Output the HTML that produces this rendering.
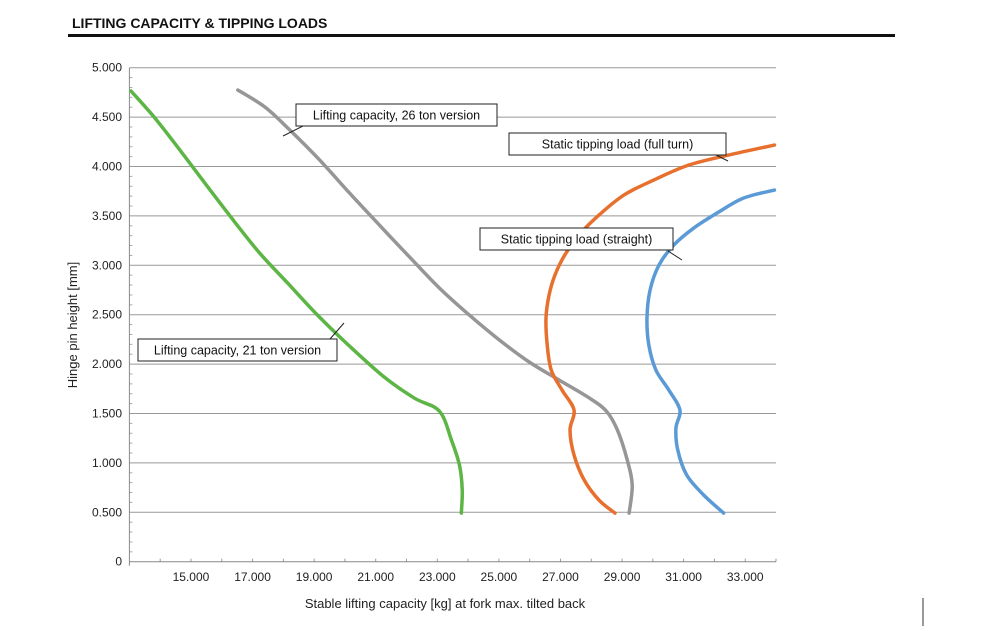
<!DOCTYPE html>
<html><head><meta charset="utf-8"><style>
body{margin:0;background:#fff;}
svg text{font-family:"Liberation Sans",Arial,sans-serif;}
</style></head><body>
<svg width="1000" height="626" viewBox="0 0 1000 626">
<text x="72" y="28" font-size="14" font-weight="bold" fill="#111">LIFTING CAPACITY &amp; TIPPING LOADS</text>
<rect x="68" y="34" width="827" height="3" fill="#111"/>
<g id="grid"></g><g id="axes"></g><g id="series"></g>
<text transform="translate(77,325) rotate(-90)" text-anchor="middle" font-size="13" fill="#222">Hinge pin height [mm]</text>
<text x="445" y="608" text-anchor="middle" font-size="13" fill="#222">Stable lifting capacity [kg] at fork max. tilted back</text>
<line x1="923" y1="598" x2="923" y2="626" stroke="#333"/>
<g id="labels"></g>
</svg>
<script>
const xTicks=[15000,17000,19000,21000,23000,25000,27000,29000,31000,33000];
const yTicks=[0,500,1000,1500,2000,2500,3000,3500,4000,4500,5000];
const green_x=[13052,13830,14640,15450,16420,17230,18140,19110,20150,21280,22260,23070,23460,23720,23810,23780];
const green_y=[4764,4490,4166,3832,3438,3124,2820,2496,2182,1868,1655,1523,1230,977,724,492];
const gray_x=[16520,17400,18210,19180,20150,21120,22100,23070,24040,25020,25990,26960,27940,28490,28850,29170,29330,29230];
const gray_y=[4774,4602,4369,4065,3731,3407,3083,2769,2496,2243,2020,1838,1656,1524,1332,1028,775,492];
const orange_x=[28770,28250,27770,27440,27310,27440,27050,26700,26570,26530,26630,26820,27140,27600,28250,29060,30030,31170,32460,33950];
const orange_y=[492,624,827,1080,1333,1535,1738,1940,2193,2466,2699,2901,3104,3306,3508,3711,3863,4015,4116,4217];
const blue_x=[32300,31650,31100,30810,30750,30880,30520,30100,29870,29810,29910,30200,30680,31330,32140,32950,33950];
const blue_y=[492,675,877,1130,1353,1535,1737,1940,2193,2466,2749,3002,3205,3377,3539,3681,3762];
const X0=13000,X1=34000,PL=129.4,PR=776,PT=67.7,PB=561.7;
const sx=v=>PL+(v-X0)/(X1-X0)*(PR-PL);
const sy=v=>PB-v/5000*(PB-PT);
const NS='http://www.w3.org/2000/svg';
function mk(t,a,p){const e=document.createElementNS(NS,t);for(const k in a)e.setAttribute(k,a[k]);p.appendChild(e);return e;}
const grid=document.getElementById('grid'),axes=document.getElementById('axes');
yTicks.forEach(v=>{
 if(v>0){const l=mk('line',{x1:PL,x2:PR,y1:sy(v),y2:sy(v),stroke:'#999','stroke-width':1},grid);
 }
 const t=mk('text',{x:122,y:sy(v)+4,'text-anchor':'end','font-size':12,fill:'#222'},axes);t.textContent=v===0?'0':(v/1000).toFixed(3);
 
});
for(let v=100;v<5000;v+=100){if(v%500)mk('line',{x1:PL,x2:PL+3,y1:sy(v),y2:sy(v),stroke:'#aaa'},axes);}
for(let v=14000;v<=34000;v+=1000){mk('line',{x1:sx(v),x2:sx(v),y1:PB,y2:PB-3,stroke:'#999'},axes);}
xTicks.forEach(v=>{const t=mk('text',{x:sx(v),y:581,'text-anchor':'middle','font-size':12,fill:'#222'},axes);
 t.textContent=(v/1000).toFixed(3);});
let a=mk('line',{x1:PL,x2:PR,y1:PB,y2:PB,stroke:'#888'},axes);
a=mk('line',{x1:PL,x2:PL,y1:PT,y2:PB+4,stroke:'#888'},axes);
function path(xs,ys){const p=xs.map((x,i)=>[sx(x),sy(ys[i])]);let d='M'+p[0][0]+','+p[0][1];
 for(let i=0;i<p.length-1;i++){const p0=p[i-1]||p[i],p1=p[i],p2=p[i+1],p3=p[i+2]||p2;
 d+=` C${p1[0]+(p2[0]-p0[0])/6},${p1[1]+(p2[1]-p0[1])/6} ${p2[0]-(p3[0]-p1[0])/6},${p2[1]-(p3[1]-p1[1])/6} ${p2[0]},${p2[1]}`;}return d;}
const ser=document.getElementById('series');
[[green_x,green_y,'#5cb545','line-21-ton'],[gray_x,gray_y,'#969696','line-26-ton'],[orange_x,orange_y,'#e8702e','line-tipping-full-turn'],[blue_x,blue_y,'#5a9ad6','line-tipping-straight']].forEach(s=>{
 const e=mk('path',{d:path(s[0],s[1]),fill:'none',stroke:s[2],'stroke-width':3.5,'stroke-linecap':'round'},ser);
 });
const lab=document.getElementById('labels');
[[296,104,201,'Lifting capacity, 26 ton version',303,126,283,136],[509,133,217,'Static tipping load (full turn)',716,155,728,161],[480,228,193,'Static tipping load (straight)',668,251,682,260],[138,339,199,'Lifting capacity, 21 ton version',330,339,344,323]].forEach(l=>{
 const g=mk('g',{},lab);
 mk('line',{x1:l[4],y1:l[5],x2:l[6],y2:l[7],stroke:'#222'},g);
 mk('rect',{x:l[0],y:l[1],width:l[2],height:22,fill:'#fff',stroke:'#222'},g);
 const t=mk('text',{x:l[0]+l[2]/2,y:l[1]+15.5,'text-anchor':'middle','font-size':12.5,fill:'#111'},g);t.textContent=l[3];});
</script>
</body></html>
